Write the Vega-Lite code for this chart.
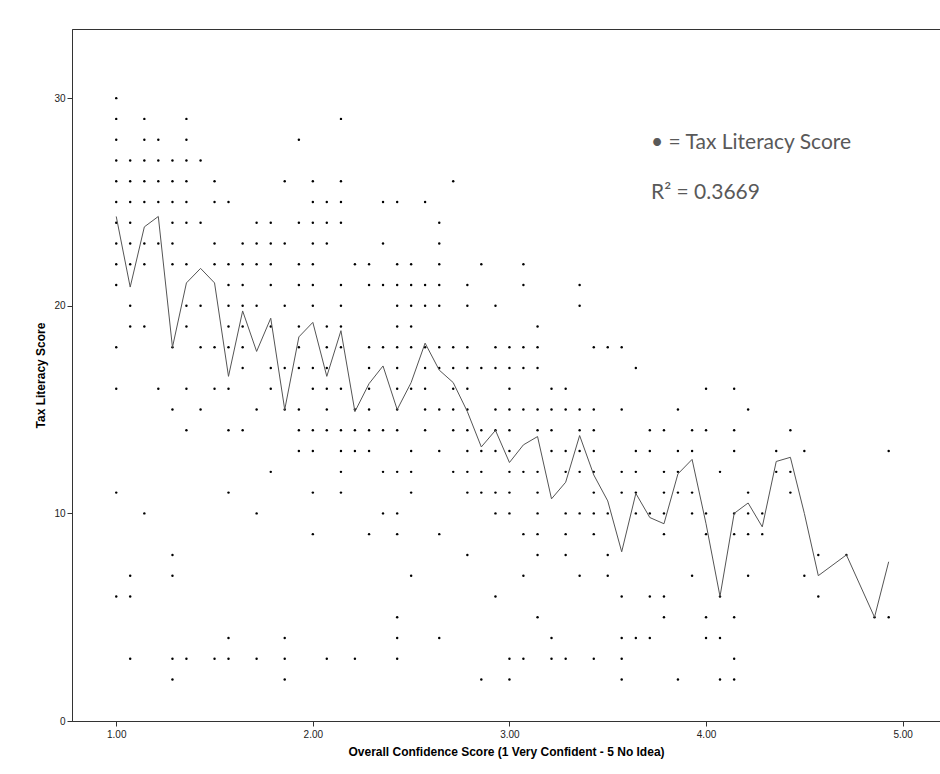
{
"$schema":"https://vega.github.io/schema/vega-lite/v6.json",
"width":868,"height":692,"autosize":"none",
"padding":{"left":72,"top":29,"right":0,"bottom":53},
"background":"white",
"config":{"view":{"stroke":"#333","strokeWidth":1},
"axis":{"grid":false,"domainColor":"#333","tickColor":"#333","tickSize":5,"labelFont":"Liberation Sans","labelFontSize":10,"labelColor":"#222","titleFont":"Liberation Sans","titleFontSize":12,"titleFontWeight":"bold","titleColor":"#000","labelFlush":false}},
"datasets":{
"points":[
{"conf":1,"tax":30},{"conf":1,"tax":29},{"conf":1,"tax":28},{"conf":1,"tax":27},{"conf":1,"tax":26},{"conf":1,"tax":25},{"conf":1,"tax":24},{"conf":1,"tax":23},{"conf":1,"tax":22},{"conf":1,"tax":21},{"conf":1,"tax":18},{"conf":1,"tax":16},{"conf":1,"tax":11},{"conf":1,"tax":6},
{"conf":1.071,"tax":27},{"conf":1.071,"tax":26},{"conf":1.071,"tax":25},{"conf":1.071,"tax":24},{"conf":1.071,"tax":23},{"conf":1.071,"tax":22},{"conf":1.071,"tax":20},{"conf":1.071,"tax":19},{"conf":1.071,"tax":7},{"conf":1.071,"tax":6},{"conf":1.071,"tax":3},
{"conf":1.143,"tax":29},{"conf":1.143,"tax":28},{"conf":1.143,"tax":27},{"conf":1.143,"tax":26},{"conf":1.143,"tax":25},{"conf":1.143,"tax":23},{"conf":1.143,"tax":22},{"conf":1.143,"tax":19},{"conf":1.143,"tax":10},
{"conf":1.214,"tax":28},{"conf":1.214,"tax":27},{"conf":1.214,"tax":26},{"conf":1.214,"tax":25},{"conf":1.214,"tax":23},{"conf":1.214,"tax":16},
{"conf":1.286,"tax":27},{"conf":1.286,"tax":26},{"conf":1.286,"tax":25},{"conf":1.286,"tax":24},{"conf":1.286,"tax":23},{"conf":1.286,"tax":22},{"conf":1.286,"tax":18},{"conf":1.286,"tax":15},{"conf":1.286,"tax":8},{"conf":1.286,"tax":7},{"conf":1.286,"tax":3},{"conf":1.286,"tax":2},
{"conf":1.357,"tax":29},{"conf":1.357,"tax":28},{"conf":1.357,"tax":27},{"conf":1.357,"tax":26},{"conf":1.357,"tax":25},{"conf":1.357,"tax":24},{"conf":1.357,"tax":22},{"conf":1.357,"tax":20},{"conf":1.357,"tax":19},{"conf":1.357,"tax":16},{"conf":1.357,"tax":14},{"conf":1.357,"tax":3},
{"conf":1.429,"tax":27},{"conf":1.429,"tax":24},{"conf":1.429,"tax":20},{"conf":1.429,"tax":18},{"conf":1.429,"tax":15},
{"conf":1.5,"tax":26},{"conf":1.5,"tax":25},{"conf":1.5,"tax":23},{"conf":1.5,"tax":22},{"conf":1.5,"tax":18},{"conf":1.5,"tax":16},{"conf":1.5,"tax":3},
{"conf":1.571,"tax":25},{"conf":1.571,"tax":22},{"conf":1.571,"tax":21},{"conf":1.571,"tax":20},{"conf":1.571,"tax":19},{"conf":1.571,"tax":18},{"conf":1.571,"tax":16},{"conf":1.571,"tax":14},{"conf":1.571,"tax":11},{"conf":1.571,"tax":4},{"conf":1.571,"tax":3},
{"conf":1.643,"tax":23},{"conf":1.643,"tax":22},{"conf":1.643,"tax":21},{"conf":1.643,"tax":20},{"conf":1.643,"tax":19},{"conf":1.643,"tax":18},{"conf":1.643,"tax":17},{"conf":1.643,"tax":14},
{"conf":1.714,"tax":24},{"conf":1.714,"tax":23},{"conf":1.714,"tax":22},{"conf":1.714,"tax":20},{"conf":1.714,"tax":15},{"conf":1.714,"tax":10},{"conf":1.714,"tax":3},
{"conf":1.786,"tax":24},{"conf":1.786,"tax":23},{"conf":1.786,"tax":22},{"conf":1.786,"tax":21},{"conf":1.786,"tax":19},{"conf":1.786,"tax":17},{"conf":1.786,"tax":16},{"conf":1.786,"tax":12},
{"conf":1.857,"tax":26},{"conf":1.857,"tax":23},{"conf":1.857,"tax":20},{"conf":1.857,"tax":17},{"conf":1.857,"tax":15},{"conf":1.857,"tax":4},{"conf":1.857,"tax":3},{"conf":1.857,"tax":2},
{"conf":1.929,"tax":28},{"conf":1.929,"tax":24},{"conf":1.929,"tax":22},{"conf":1.929,"tax":21},{"conf":1.929,"tax":19},{"conf":1.929,"tax":18},{"conf":1.929,"tax":17},{"conf":1.929,"tax":15},{"conf":1.929,"tax":14},{"conf":1.929,"tax":13},
{"conf":2,"tax":26},{"conf":2,"tax":25},{"conf":2,"tax":24},{"conf":2,"tax":23},{"conf":2,"tax":22},{"conf":2,"tax":21},{"conf":2,"tax":20},{"conf":2,"tax":17},{"conf":2,"tax":16},{"conf":2,"tax":14},{"conf":2,"tax":13},{"conf":2,"tax":11},{"conf":2,"tax":9},
{"conf":2.071,"tax":25},{"conf":2.071,"tax":24},{"conf":2.071,"tax":23},{"conf":2.071,"tax":19},{"conf":2.071,"tax":18},{"conf":2.071,"tax":17},{"conf":2.071,"tax":16},{"conf":2.071,"tax":15},{"conf":2.071,"tax":14},{"conf":2.071,"tax":3},
{"conf":2.143,"tax":29},{"conf":2.143,"tax":26},{"conf":2.143,"tax":25},{"conf":2.143,"tax":24},{"conf":2.143,"tax":21},{"conf":2.143,"tax":20},{"conf":2.143,"tax":19},{"conf":2.143,"tax":18},{"conf":2.143,"tax":16},{"conf":2.143,"tax":14},{"conf":2.143,"tax":13},{"conf":2.143,"tax":12},{"conf":2.143,"tax":11},
{"conf":2.214,"tax":22},{"conf":2.214,"tax":15},{"conf":2.214,"tax":14},{"conf":2.214,"tax":13},{"conf":2.214,"tax":3},
{"conf":2.286,"tax":22},{"conf":2.286,"tax":21},{"conf":2.286,"tax":18},{"conf":2.286,"tax":17},{"conf":2.286,"tax":16},{"conf":2.286,"tax":15},{"conf":2.286,"tax":14},{"conf":2.286,"tax":13},{"conf":2.286,"tax":9},
{"conf":2.357,"tax":25},{"conf":2.357,"tax":23},{"conf":2.357,"tax":21},{"conf":2.357,"tax":18},{"conf":2.357,"tax":14},{"conf":2.357,"tax":12},{"conf":2.357,"tax":10},
{"conf":2.429,"tax":25},{"conf":2.429,"tax":22},{"conf":2.429,"tax":21},{"conf":2.429,"tax":20},{"conf":2.429,"tax":19},{"conf":2.429,"tax":18},{"conf":2.429,"tax":17},{"conf":2.429,"tax":16},{"conf":2.429,"tax":15},{"conf":2.429,"tax":14},{"conf":2.429,"tax":12},{"conf":2.429,"tax":10},{"conf":2.429,"tax":9},{"conf":2.429,"tax":5},{"conf":2.429,"tax":4},{"conf":2.429,"tax":3},
{"conf":2.5,"tax":22},{"conf":2.5,"tax":21},{"conf":2.5,"tax":20},{"conf":2.5,"tax":19},{"conf":2.5,"tax":18},{"conf":2.5,"tax":16},{"conf":2.5,"tax":13},{"conf":2.5,"tax":12},{"conf":2.5,"tax":11},{"conf":2.5,"tax":7},
{"conf":2.571,"tax":25},{"conf":2.571,"tax":21},{"conf":2.571,"tax":20},{"conf":2.571,"tax":18},{"conf":2.571,"tax":17},{"conf":2.571,"tax":16},{"conf":2.571,"tax":15},{"conf":2.571,"tax":14},
{"conf":2.643,"tax":24},{"conf":2.643,"tax":23},{"conf":2.643,"tax":22},{"conf":2.643,"tax":21},{"conf":2.643,"tax":20},{"conf":2.643,"tax":18},{"conf":2.643,"tax":17},{"conf":2.643,"tax":15},{"conf":2.643,"tax":13},{"conf":2.643,"tax":9},{"conf":2.643,"tax":4},
{"conf":2.714,"tax":26},{"conf":2.714,"tax":18},{"conf":2.714,"tax":17},{"conf":2.714,"tax":16},{"conf":2.714,"tax":15},{"conf":2.714,"tax":14},{"conf":2.714,"tax":12},
{"conf":2.786,"tax":21},{"conf":2.786,"tax":20},{"conf":2.786,"tax":18},{"conf":2.786,"tax":17},{"conf":2.786,"tax":16},{"conf":2.786,"tax":15},{"conf":2.786,"tax":14},{"conf":2.786,"tax":13},{"conf":2.786,"tax":12},{"conf":2.786,"tax":11},{"conf":2.786,"tax":8},
{"conf":2.857,"tax":22},{"conf":2.857,"tax":17},{"conf":2.857,"tax":14},{"conf":2.857,"tax":13},{"conf":2.857,"tax":12},{"conf":2.857,"tax":11},{"conf":2.857,"tax":2},
{"conf":2.929,"tax":20},{"conf":2.929,"tax":18},{"conf":2.929,"tax":17},{"conf":2.929,"tax":15},{"conf":2.929,"tax":14},{"conf":2.929,"tax":13},{"conf":2.929,"tax":11},{"conf":2.929,"tax":10},{"conf":2.929,"tax":6},
{"conf":3,"tax":18},{"conf":3,"tax":17},{"conf":3,"tax":16},{"conf":3,"tax":15},{"conf":3,"tax":14},{"conf":3,"tax":13},{"conf":3,"tax":12},{"conf":3,"tax":11},{"conf":3,"tax":10},{"conf":3,"tax":3},{"conf":3,"tax":2},
{"conf":3.071,"tax":22},{"conf":3.071,"tax":21},{"conf":3.071,"tax":18},{"conf":3.071,"tax":17},{"conf":3.071,"tax":15},{"conf":3.071,"tax":12},{"conf":3.071,"tax":9},{"conf":3.071,"tax":7},{"conf":3.071,"tax":3},
{"conf":3.143,"tax":19},{"conf":3.143,"tax":18},{"conf":3.143,"tax":17},{"conf":3.143,"tax":15},{"conf":3.143,"tax":14},{"conf":3.143,"tax":12},{"conf":3.143,"tax":11},{"conf":3.143,"tax":10},{"conf":3.143,"tax":9},{"conf":3.143,"tax":8},{"conf":3.143,"tax":5},
{"conf":3.214,"tax":16},{"conf":3.214,"tax":15},{"conf":3.214,"tax":14},{"conf":3.214,"tax":13},{"conf":3.214,"tax":4},{"conf":3.214,"tax":3},
{"conf":3.286,"tax":16},{"conf":3.286,"tax":15},{"conf":3.286,"tax":13},{"conf":3.286,"tax":12},{"conf":3.286,"tax":10},{"conf":3.286,"tax":9},{"conf":3.286,"tax":8},{"conf":3.286,"tax":3},
{"conf":3.357,"tax":21},{"conf":3.357,"tax":20},{"conf":3.357,"tax":15},{"conf":3.357,"tax":14},{"conf":3.357,"tax":13},{"conf":3.357,"tax":12},{"conf":3.357,"tax":10},{"conf":3.357,"tax":7},
{"conf":3.429,"tax":18},{"conf":3.429,"tax":15},{"conf":3.429,"tax":14},{"conf":3.429,"tax":13},{"conf":3.429,"tax":12},{"conf":3.429,"tax":11},{"conf":3.429,"tax":10},{"conf":3.429,"tax":9},{"conf":3.429,"tax":3},
{"conf":3.5,"tax":18},{"conf":3.5,"tax":10},{"conf":3.5,"tax":8},{"conf":3.5,"tax":7},
{"conf":3.571,"tax":18},{"conf":3.571,"tax":15},{"conf":3.571,"tax":12},{"conf":3.571,"tax":11},{"conf":3.571,"tax":6},{"conf":3.571,"tax":4},{"conf":3.571,"tax":3},{"conf":3.571,"tax":2},
{"conf":3.643,"tax":17},{"conf":3.643,"tax":13},{"conf":3.643,"tax":12},{"conf":3.643,"tax":11},{"conf":3.643,"tax":10},{"conf":3.643,"tax":4},
{"conf":3.714,"tax":14},{"conf":3.714,"tax":13},{"conf":3.714,"tax":10},{"conf":3.714,"tax":6},{"conf":3.714,"tax":4},
{"conf":3.786,"tax":14},{"conf":3.786,"tax":12},{"conf":3.786,"tax":11},{"conf":3.786,"tax":10},{"conf":3.786,"tax":9},{"conf":3.786,"tax":6},{"conf":3.786,"tax":5},
{"conf":3.857,"tax":15},{"conf":3.857,"tax":13},{"conf":3.857,"tax":12},{"conf":3.857,"tax":11},{"conf":3.857,"tax":2},
{"conf":3.929,"tax":14},{"conf":3.929,"tax":13},{"conf":3.929,"tax":11},{"conf":3.929,"tax":10},{"conf":3.929,"tax":7},
{"conf":4,"tax":16},{"conf":4,"tax":14},{"conf":4,"tax":10},{"conf":4,"tax":9},{"conf":4,"tax":5},{"conf":4,"tax":4},
{"conf":4.071,"tax":12},{"conf":4.071,"tax":6},{"conf":4.071,"tax":4},{"conf":4.071,"tax":2},
{"conf":4.143,"tax":16},{"conf":4.143,"tax":14},{"conf":4.143,"tax":13},{"conf":4.143,"tax":10},{"conf":4.143,"tax":9},{"conf":4.143,"tax":5},{"conf":4.143,"tax":3},{"conf":4.143,"tax":2},
{"conf":4.214,"tax":15},{"conf":4.214,"tax":11},{"conf":4.214,"tax":10},{"conf":4.214,"tax":9},{"conf":4.214,"tax":7},
{"conf":4.286,"tax":10},{"conf":4.286,"tax":9},
{"conf":4.357,"tax":13},{"conf":4.357,"tax":12},
{"conf":4.429,"tax":14},{"conf":4.429,"tax":12},{"conf":4.429,"tax":11},
{"conf":4.5,"tax":13},{"conf":4.5,"tax":7},
{"conf":4.571,"tax":8},{"conf":4.571,"tax":6},
{"conf":4.714,"tax":8},
{"conf":4.857,"tax":5},
{"conf":4.929,"tax":13},{"conf":4.929,"tax":5}
],
"means":[
{"conf":1,"tax":24.3},{"conf":1.071,"tax":20.9},{"conf":1.143,"tax":23.8},{"conf":1.214,"tax":24.3},{"conf":1.286,"tax":18.0},{"conf":1.357,"tax":21.1},{"conf":1.429,"tax":21.8},{"conf":1.5,"tax":21.1},{"conf":1.571,"tax":16.6},{"conf":1.643,"tax":19.75},{"conf":1.714,"tax":17.8},{"conf":1.786,"tax":19.4},{"conf":1.857,"tax":15.0},{"conf":1.929,"tax":18.5},{"conf":2,"tax":19.2},{"conf":2.071,"tax":16.6},{"conf":2.143,"tax":18.8},{"conf":2.214,"tax":14.9},{"conf":2.286,"tax":16.25},{"conf":2.357,"tax":17.1},{"conf":2.429,"tax":15.0},{"conf":2.5,"tax":16.3},{"conf":2.571,"tax":18.2},{"conf":2.643,"tax":16.9},{"conf":2.714,"tax":16.3},{"conf":2.786,"tax":14.9},{"conf":2.857,"tax":13.2},{"conf":2.929,"tax":14.0},{"conf":3,"tax":12.45},{"conf":3.071,"tax":13.3},{"conf":3.143,"tax":13.7},{"conf":3.214,"tax":10.7},{"conf":3.286,"tax":11.5},{"conf":3.357,"tax":13.75},{"conf":3.429,"tax":11.85},{"conf":3.5,"tax":10.6},{"conf":3.571,"tax":8.15},{"conf":3.643,"tax":10.96},{"conf":3.714,"tax":9.8},{"conf":3.786,"tax":9.5},{"conf":3.857,"tax":11.9},{"conf":3.929,"tax":12.6},{"conf":4,"tax":9.5},{"conf":4.071,"tax":6.0},{"conf":4.143,"tax":10.0},{"conf":4.214,"tax":10.5},{"conf":4.286,"tax":9.35},{"conf":4.357,"tax":12.5},{"conf":4.429,"tax":12.7},{"conf":4.5,"tax":10.0},{"conf":4.571,"tax":7.0},{"conf":4.714,"tax":8.0},{"conf":4.857,"tax":5.0},{"conf":4.929,"tax":7.67}
],
"notes":[{"label":"• = Tax Literacy Score"}],
"fit":[{"label":"R² = 0.3669"}]
},
"layer":[
{"data":{"name":"points"},"mark":{"type":"point","filled":true,"shape":"circle","size":6,"color":"#000","opacity":1},
"encoding":{
"x":{"field":"conf","type":"quantitative","scale":{"domain":[0.775,5.19],"nice":false,"zero":false},
"axis":{"values":[1,2,3,4,5],"format":".2f","labelPadding":3,"title":"Overall Confidence Score (1 Very Confident - 5 No Idea)","titlePadding":7}},
"y":{"field":"tax","type":"quantitative","scale":{"domain":[0,33.33],"nice":false,"zero":true},
"axis":{"values":[0,10,20,30],"format":"d","labelPadding":2,"title":"Tax Literacy Score","titlePadding":6}}}},
{"data":{"name":"means"},"mark":{"type":"line","color":"#555","strokeWidth":1},
"encoding":{"x":{"field":"conf","type":"quantitative"},"y":{"field":"tax","type":"quantitative"}}},
{"data":{"name":"notes"},"mark":{"type":"text","align":"left","baseline":"alphabetic","font":"Lato","fontSize":21,"color":"#595959"},
"encoding":{"text":{"field":"label","type":"nominal"},"x":{"datum":3.72,"type":"quantitative"},"y":{"datum":27.53,"type":"quantitative"}}},
{"data":{"name":"fit"},"mark":{"type":"text","align":"left","baseline":"alphabetic","font":"Lato","fontSize":21,"color":"#595959"},
"encoding":{"text":{"field":"label","type":"nominal"},"x":{"datum":3.72,"type":"quantitative"},"y":{"datum":25.12,"type":"quantitative"}}}
]
}
